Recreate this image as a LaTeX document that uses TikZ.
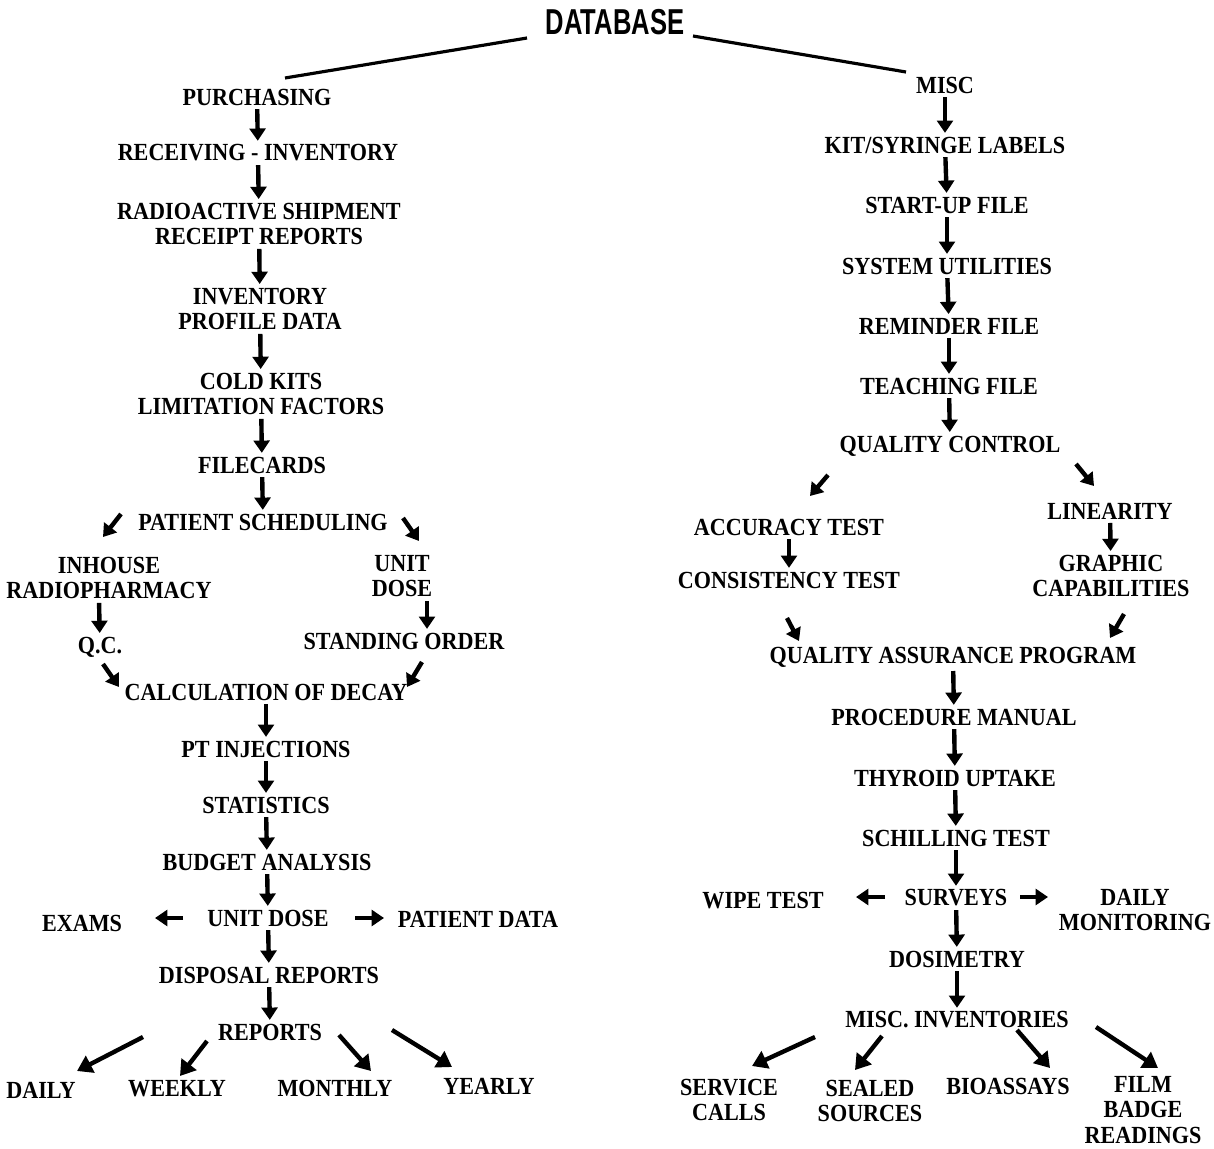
\documentclass[tikz,border=0pt]{standalone}
\usepackage{fontspec}
\setmainfont{Liberation Serif}
\newfontfamily\lblfont[FakeStretch=0.9]{Liberation Serif}
\newfontfamily\dbfont[FakeStretch=0.71]{Liberation Sans}
\usetikzlibrary{arrows.meta}

\begin{document}
\begin{tikzpicture}[x=0.02cm,y=-0.02cm,
  lbl/.style={inner sep=0pt,align=center,font=\lblfont\fontsize{14}{14.6}\selectfont\bfseries},
  arr/.style={-{Triangle[length=7pt,width=9pt]},line width=2.5pt,shorten <=2pt,shorten >=2pt},
  darr/.style={-{Triangle[length=7pt,width=9pt]},line width=2.5pt},
  bigarr/.style={-{Triangle[length=8.5pt,width=10.5pt]},line width=2.5pt},
  link/.style={line width=1.8pt}
]
\useasboundingbox (0,0) rectangle (1214,1149);
\node[font=\dbfont\fontsize{20.5}{22}\selectfont\bfseries,inner sep=0pt] (db) at (615,22) {DATABASE};

% left column
\node[lbl] (purch) at (257,97) {PURCHASING};
\node[lbl] (recv) at (258,153) {RECEIVING - INVENTORY};
\node[lbl] (ship) at (259,224) {RADIOACTIVE SHIPMENT\\RECEIPT REPORTS};
\node[lbl] (invp) at (260,309) {INVENTORY\\PROFILE DATA};
\node[lbl] (cold) at (261,394) {COLD KITS\\LIMITATION FACTORS};
\node[lbl] (filec) at (262,465) {FILECARDS};
\node[lbl] (sched) at (263,522) {PATIENT SCHEDULING};
\node[lbl] (inh) at (109,578) {INHOUSE\\RADIOPHARMACY};
\node[lbl] (unit) at (402,576) {UNIT\\DOSE};
\node[lbl] (qc) at (100,647) {Q.C.};
\node[lbl] (stand) at (404,641) {STANDING ORDER};
\node[lbl] (calc) at (266,692) {CALCULATION OF DECAY};
\node[lbl] (ptinj) at (266,749) {PT INJECTIONS};
\node[lbl] (stat) at (266,805) {STATISTICS};
\node[lbl] (budget) at (267,862) {BUDGET ANALYSIS};
\node[lbl] (udose) at (268,918) {UNIT DOSE};
\node[lbl] (exams) at (82,923) {EXAMS};
\node[lbl] (ptdata) at (478,919) {PATIENT DATA};
\node[lbl] (disp) at (269,975) {DISPOSAL REPORTS};
\node[lbl] (reports) at (270,1032) {REPORTS};
\node[lbl] (daily) at (41,1090) {DAILY};
\node[lbl] (weekly) at (177,1089) {WEEKLY};
\node[lbl] (monthly) at (335,1088) {MONTHLY};
\node[lbl] (yearly) at (489,1086) {YEARLY};

% right column
\node[lbl] (misc) at (945,85) {MISC};
\node[lbl] (kit) at (945,145) {KIT/SYRINGE LABELS};
\node[lbl] (start) at (947,205) {START-UP FILE};
\node[lbl] (sysut) at (947,266) {SYSTEM UTILITIES};
\node[lbl] (remind) at (949,326) {REMINDER FILE};
\node[lbl] (teach) at (949,386) {TEACHING FILE};
\node[lbl] (qctrl) at (950,446) {QUALITY CONTROL};
\node[lbl] (acc) at (789,527) {ACCURACY TEST};
\node[lbl] (cons) at (789,580) {CONSISTENCY TEST};
\node[lbl] (lin) at (1110,511) {LINEARITY};
\node[lbl] (graph) at (1111,576) {GRAPHIC\\CAPABILITIES};
\node[lbl] (qap) at (953,657) {QUALITY ASSURANCE PROGRAM};
\node[lbl] (proc) at (954,717) {PROCEDURE MANUAL};
\node[lbl] (thyr) at (955,778) {THYROID UPTAKE};
\node[lbl] (schill) at (956,838) {SCHILLING TEST};
\node[lbl] (surv) at (956,898) {SURVEYS};
\node[lbl] (wipe) at (763,901) {WIPE TEST};
\node[lbl] (dmon) at (1135,910) {DAILY\\MONITORING};
\node[lbl] (dosi) at (957,959) {DOSIMETRY};
\node[lbl] (minv) at (957,1020) {MISC. INVENTORIES};
\node[lbl] (serv) at (729,1100) {SERVICE\\CALLS};
\node[lbl] (seal) at (870,1101) {SEALED\\SOURCES};
\node[lbl] (bio) at (1008,1086) {BIOASSAYS};
\node[lbl] (film) at (1143,1110) {FILM\\BADGE\\READINGS};

% lines from the top
\draw[link] ([shift={(-88,16)}]db.center) -- ([shift={(28,-19)}]purch.center);
\draw[link] ([shift={(78,14)}]db.center) -- ([shift={(-39,-13)}]misc.center);

% left chain
\draw[arr] (purch) -- (recv);
\draw[arr] (recv) -- (ship);
\draw[arr] (ship) -- (invp);
\draw[arr] (invp) -- (cold);
\draw[arr] (cold) -- (filec);
\draw[arr] (filec) -- (sched);
\draw[darr] ([shift={(-142,-8)}]sched.center) -- ([shift={(-6,-41)}]inh.center);
\draw[darr] ([shift={(140,-4)}]sched.center) -- ([shift={(17,-35)}]unit.center);
\draw[arr] ([shift={(-10,0)}]inh.south) -- (qc);
\draw[arr] ([shift={(25,0)}]unit.south) -- ([shift={(23,0)}]stand.north);
\draw[darr] ([shift={(3,17)}]qc.center) -- ([shift={(-147,-5)}]calc.center);
\draw[darr] ([shift={(18,21)}]stand.center) -- ([shift={(141,-5)}]calc.center);
\draw[arr] (calc) -- (ptinj);
\draw[arr] (ptinj) -- (stat);
\draw[arr] (stat) -- (budget);
\draw[arr] (budget) -- (udose);
\draw[darr] ([shift={(-85,0)}]udose.center) -- ([shift={(73,-5)}]exams.center);
\draw[darr] ([shift={(87,0)}]udose.center) -- ([shift={(-94,-1)}]ptdata.center);
\draw[arr] (udose) -- (disp);
\draw[arr] (disp) -- (reports);
\draw[bigarr] ([shift={(-127,5)}]reports.center) -- ([shift={(36,-19)}]daily.center);
\draw[bigarr] ([shift={(-63,9)}]reports.center) -- ([shift={(3,-13)}]weekly.center);
\draw[bigarr] ([shift={(69,3)}]reports.center) -- ([shift={(36,-17)}]monthly.center);
\draw[bigarr] ([shift={(122,-2)}]reports.center) -- ([shift={(-37,-19)}]yearly.center);

% right chain
\draw[arr] (misc) -- (kit);
\draw[arr] (kit) -- (start);
\draw[arr] (start) -- (sysut);
\draw[arr] (sysut) -- (remind);
\draw[arr] (remind) -- (teach);
\draw[arr] (teach) -- (qctrl);
\draw[darr] ([shift={(-122,29)}]qctrl.center) -- ([shift={(21,-31)}]acc.center);
\draw[darr] ([shift={(126,18)}]qctrl.center) -- ([shift={(-16,-25)}]lin.center);
\draw[arr] (acc) -- (cons);
\draw[arr] (lin) -- (graph);
\draw[darr] ([shift={(-2,38)}]cons.center) -- ([shift={(-154,-16)}]qap.center);
\draw[darr] ([shift={(13,38)}]graph.center) -- ([shift={(157,-19)}]qap.center);
\draw[arr] (qap) -- (proc);
\draw[arr] (proc) -- (thyr);
\draw[arr] (thyr) -- (schill);
\draw[arr] (schill) -- (surv);
\draw[darr] ([shift={(-71,-1)}]surv.center) -- ([shift={(93,-4)}]wipe.center);
\draw[darr] ([shift={(64,-1)}]surv.center) -- ([shift={(-87,-13)}]dmon.center);
\draw[arr] (surv) -- (dosi);
\draw[arr] (dosi) -- (minv);
\draw[bigarr] ([shift={(-142,17)}]minv.center) -- ([shift={(23,-34)}]serv.center);
\draw[bigarr] ([shift={(-75,16)}]minv.center) -- ([shift={(-15,-31)}]seal.center);
\draw[bigarr] ([shift={(60,10)}]minv.center) -- ([shift={(42,-18)}]bio.center);
\draw[bigarr] ([shift={(139,7)}]minv.center) -- ([shift={(15,-42)}]film.center);
\end{tikzpicture}
\end{document}
